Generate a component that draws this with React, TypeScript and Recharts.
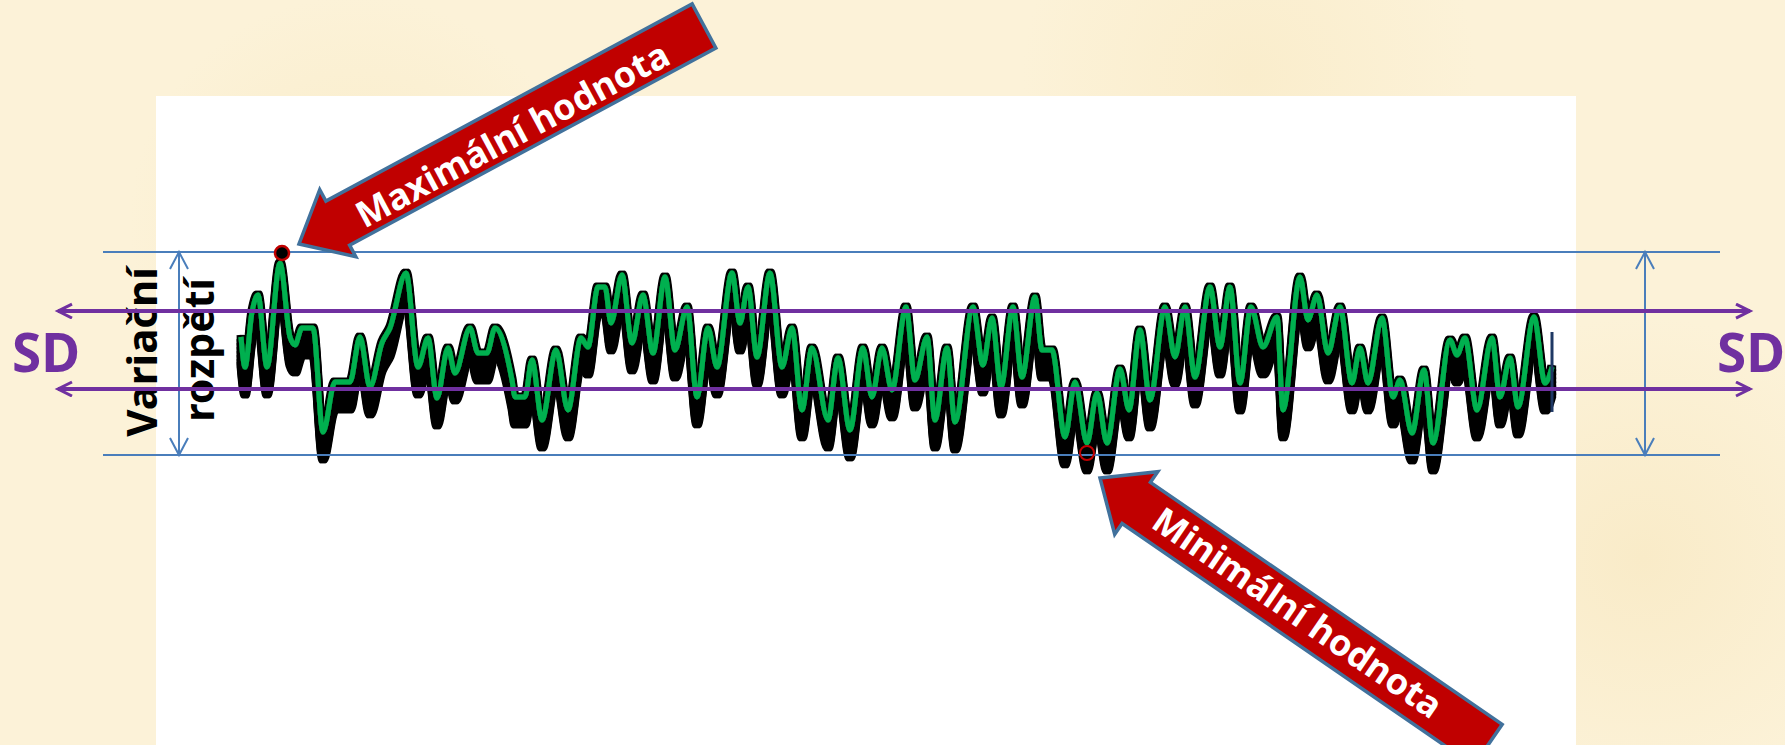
import React from "react";
import {
  LineChart,
  Line,
  XAxis,
  YAxis,
  ReferenceLine,
  ReferenceDot,
} from "recharts";

// sample index of each turning point of the recording
const sampleIdx = [
  0, 4, 11, 17, 26, 39, 49, 54, 61, 72,
  82, 94, 109, 119, 129, 141, 149, 165, 177, 187,
  196, 207, 214, 229, 237, 246, 254, 271, 274, 284,
  291, 301, 315, 327, 340, 347, 357, 364, 370, 381,
  391, 402, 412, 424, 434, 446, 456, 467, 476, 491,
  499, 507, 516, 529, 541, 551, 561, 571, 587, 597,
  609, 622, 631, 641, 651, 665, 674, 686, 694, 706,
  714, 732, 742, 751, 760, 772, 781, 794, 801, 811,
  824, 834, 846, 856, 866, 879, 888, 899, 909, 924,
  934, 944, 954, 969, 979, 989, 999, 1010, 1022, 1036,
  1042, 1059, 1067, 1076, 1087, 1099, 1111, 1119, 1127, 1141,
  1152, 1159, 1171, 1183, 1192, 1209, 1216, 1224, 1236, 1251,
  1259, 1269, 1277, 1293, 1304, 1311,
];

// signal value (0 = minimum, 100 = maximum of the range)
const signal = [
  58.1, 43.3, 70.4, 78.8, 43.3, 94.6, 58.1, 54.2, 62.6, 62.6,
  11.3, 36.0, 36.0, 58.1, 33.5, 55.2, 62.6, 89.7, 43.3, 57.6,
  28.1, 52.7, 40.4, 62.6, 50.2, 50.2, 62.6, 36.9, 28.6, 28.6,
  46.8, 17.2, 51.7, 22.2, 57.6, 53.2, 82.8, 82.8, 65.0, 88.7,
  55.2, 78.8, 50.2, 87.7, 51.7, 72.9, 28.6, 62.6, 43.3, 89.7,
  65.0, 82.8, 48.3, 89.7, 43.3, 62.6, 22.2, 52.7, 17.2, 47.8,
  12.3, 52.7, 28.6, 52.7, 32.0, 72.9, 36.9, 58.1, 17.2, 52.7,
  16.3, 72.9, 44.3, 67.5, 33.5, 72.9, 38.4, 77.8, 51.7, 51.7,
  8.9, 36.0, 5.9, 30.5, 5.9, 42.4, 22.2, 61.6, 27.1, 72.9,
  48.3, 72.9, 38.4, 82.8, 53.2, 82.8, 35.5, 72.9, 53.2, 68.0,
  22.2, 87.7, 66.5, 78.8, 50.2, 72.9, 35.5, 52.7, 35.5, 67.5,
  28.6, 36.9, 10.8, 41.9, 5.9, 56.7, 49.3, 57.6, 22.2, 57.6,
  28.6, 47.8, 23.6, 68.0, 35.5, 43.3,
];

const rangeMax = 100;
const rangeMin = 0;
const sdHigh = 70.9;
const sdLow = 32.5;
const maxPoint = { idx: 41, value: 99.5 };
const minPoint = { idx: 846, value: 1.0 };

const labels = {
  range: ["Variační", "rozpětí"],
  sd: "SD",
  max: "Maximální hodnota",
  min: "Minimální hodnota",
};

const data = sampleIdx.map((t, i) => ({ t, v: signal[i] }));

const FONT = "'Noto Sans', 'Open Sans', sans-serif";
const PURPLE = "#7030A0";
const BLUE = "#4A7EBB";

// big red block arrow used for the annotations
const blockArrow = (
  tip: [number, number],
  tail: [number, number],
  shaft: number,
  head: number,
  headLen: number
) => {
  const dx = tail[0] - tip[0];
  const dy = tail[1] - tip[1];
  const len = Math.hypot(dx, dy);
  const ux = dx / len;
  const uy = dy / len;
  const nx = -uy;
  const ny = ux;
  const bx = tip[0] + ux * headLen;
  const by = tip[1] + uy * headLen;
  const pts = [
    [tip[0], tip[1]],
    [bx + nx * head, by + ny * head],
    [bx + nx * shaft, by + ny * shaft],
    [tail[0] + nx * shaft, tail[1] + ny * shaft],
    [tail[0] - nx * shaft, tail[1] - ny * shaft],
    [bx - nx * shaft, by - ny * shaft],
    [bx - nx * head, by - ny * head],
  ];
  return pts.map((p) => p.join(",")).join(" ");
};

const purpleShape = (p: any) => (
  <line
    x1={p.x1}
    y1={p.y1}
    x2={p.x2}
    y2={p.y2}
    stroke={PURPLE}
    strokeWidth={4}
    markerStart="url(#purpleHead)"
    markerEnd="url(#purpleHead)"
  />
);

const blueShape = (p: any) => (
  <line
    x1={p.x1}
    y1={p.y1}
    x2={p.x2}
    y2={p.y2}
    stroke={BLUE}
    strokeWidth={2}
    markerStart="url(#blueHead)"
    markerEnd="url(#blueHead)"
  />
);

const App: React.FC = () => {
  return (
    <div
      style={{
        position: "absolute",
        left: 0,
        top: 0,
        width: 1785,
        height: 745,
        overflow: "hidden",
        background:
          "radial-gradient(circle at 20% 30%, #f9ecc9 0, rgba(249,236,201,0) 15%), radial-gradient(circle at 70% 10%, #faedcc 0, rgba(250,237,204,0) 16%), radial-gradient(circle at 92% 75%, #f9ebc8 0, rgba(249,235,200,0) 14%), #fcf2d8",
      }}
    >
      <style>{`.sig { filter: url(#extrude); }`}</style>
      <svg width={0} height={0} style={{ position: "absolute" }}>
        <defs>
          <filter id="extrude" x="-2%" y="-10%" width="104%" height="150%">
            <feMorphology in="SourceAlpha" operator="dilate" radius="2" result="d" />
            <feOffset in="d" dy="4" result="o1" />
            <feOffset in="d" dy="8" result="o2" />
            <feOffset in="d" dy="12" result="o3" />
            <feOffset in="d" dy="16" result="o4" />
            <feOffset in="d" dy="20" result="o5" />
            <feOffset in="d" dy="24" result="o6" />
            <feOffset in="d" dy="27" result="o7" />
            <feMerge>
              <feMergeNode in="o7" />
              <feMergeNode in="o6" />
              <feMergeNode in="o5" />
              <feMergeNode in="o4" />
              <feMergeNode in="o3" />
              <feMergeNode in="o2" />
              <feMergeNode in="o1" />
              <feMergeNode in="d" />
              <feMergeNode in="SourceGraphic" />
            </feMerge>
          </filter>
          <marker
            id="purpleHead"
            markerUnits="userSpaceOnUse"
            markerWidth="20"
            markerHeight="20"
            refX="15"
            refY="8"
            orient="auto-start-reverse"
          >
            <path d="M1,1 L15,8 L1,15" fill="none" stroke={PURPLE} strokeWidth={3} />
          </marker>
          <marker
            id="blueHead"
            markerUnits="userSpaceOnUse"
            markerWidth="22"
            markerHeight="24"
            refX="18"
            refY="10"
            orient="auto-start-reverse"
          >
            <path d="M1,1 L18,10 L1,19" fill="none" stroke={BLUE} strokeWidth={2} />
          </marker>
        </defs>
      </svg>

      {/* white slide panel */}
      <div
        style={{
          position: "absolute",
          left: 156,
          top: 96,
          width: 1420,
          height: 649,
          background: "#ffffff",
        }}
      />

      {/* side texts */}
      <svg
        width={1785}
        height={745}
        style={{ position: "absolute", left: 0, top: 0 }}
      >
        <text
          transform="translate(157,352) rotate(-90)"
          textAnchor="middle"
          fontFamily={FONT}
          fontWeight={700}
          fontSize={42}
          fill="#000"
        >
          {labels.range[0]}
        </text>
        <text
          transform="translate(214,350) rotate(-90)"
          textAnchor="middle"
          fontFamily={FONT}
          fontWeight={700}
          fontSize={41}
          fill="#000"
        >
          {labels.range[1]}
        </text>
        <text
          x={46}
          y={372}
          textAnchor="middle"
          fontFamily={FONT}
          fontWeight={700}
          fontSize={53}
          fill={PURPLE}
        >
          {labels.sd}
        </text>
        <text
          x={1751}
          y={372}
          textAnchor="middle"
          fontFamily={FONT}
          fontWeight={700}
          fontSize={53}
          fill={PURPLE}
        >
          {labels.sd}
        </text>
      </svg>

      <div style={{ position: "absolute", left: 0, top: 0 }}>
        <LineChart
          width={1785}
          height={745}
          data={data}
          margin={{ top: 252, bottom: 290, left: 0, right: 0 }}
        >
          <XAxis type="number" dataKey="t" domain={[-241, 1544]} hide />
          <YAxis type="number" domain={[rangeMin, 100]} hide />
          <Line
            className="sig"
            type="monotone"
            dataKey="v"
            stroke="#00B050"
            strokeWidth={5}
            dot={false}
            isAnimationActive={false}
          />
          <ReferenceLine
            segment={[
              { x: -138, y: rangeMax },
              { x: 1479, y: rangeMax },
            ]}
            stroke={BLUE}
            strokeWidth={2}
          />
          <ReferenceLine
            segment={[
              { x: -138, y: rangeMin },
              { x: 1479, y: rangeMin },
            ]}
            stroke={BLUE}
            strokeWidth={2}
          />
          <ReferenceLine
            segment={[
              { x: -62, y: rangeMax },
              { x: -62, y: rangeMin },
            ]}
            shape={blueShape}
          />
          <ReferenceLine
            segment={[
              { x: 1404, y: rangeMax },
              { x: 1404, y: rangeMin },
            ]}
            shape={blueShape}
          />
          <ReferenceLine
            segment={[
              { x: 1311, y: 60.6 },
              { x: 1311, y: 21.2 },
            ]}
            stroke="#1F3864"
            strokeWidth={3}
          />
          <ReferenceLine
            segment={[
              { x: -183, y: sdHigh },
              { x: 1509, y: sdHigh },
            ]}
            shape={purpleShape}
          />
          <ReferenceLine
            segment={[
              { x: -183, y: sdLow },
              { x: 1509, y: sdLow },
            ]}
            shape={purpleShape}
          />
          <ReferenceDot
            x={maxPoint.idx}
            y={maxPoint.value}
            r={7}
            fill="#000"
            stroke="#C00000"
            strokeWidth={2.5}
          />
          <ReferenceDot
            x={minPoint.idx}
            y={minPoint.value}
            r={7}
            fill="none"
            stroke="#C00000"
            strokeWidth={2}
          />
        </LineChart>
      </div>

      {/* red call-out arrows */}
      <svg
        width={1785}
        height={745}
        style={{ position: "absolute", left: 0, top: 0, pointerEvents: "none" }}
      >
        <polygon
          points={blockArrow([299, 244], [704, 26], 25, 38, 44)}
          fill="#C00000"
          stroke="#41719C"
          strokeWidth={3.5}
          strokeLinejoin="miter"
        />
        <text
          transform="translate(512,134) rotate(-28.3)"
          textAnchor="middle"
          dominantBaseline="central"
          fontFamily={FONT}
          fontWeight={700}
          fontSize={36}
          fill="#fff"
        >
          {labels.max}
        </text>
        <polygon
          points={blockArrow([1100, 478], [1488, 745], 25, 38, 44)}
          fill="#C00000"
          stroke="#41719C"
          strokeWidth={3.5}
          strokeLinejoin="miter"
        />
        <text
          transform="translate(1298,612) rotate(34.5)"
          textAnchor="middle"
          dominantBaseline="central"
          fontFamily={FONT}
          fontWeight={700}
          fontSize={36}
          fill="#fff"
        >
          {labels.min}
        </text>
      </svg>
    </div>
  );
};

export default App;
